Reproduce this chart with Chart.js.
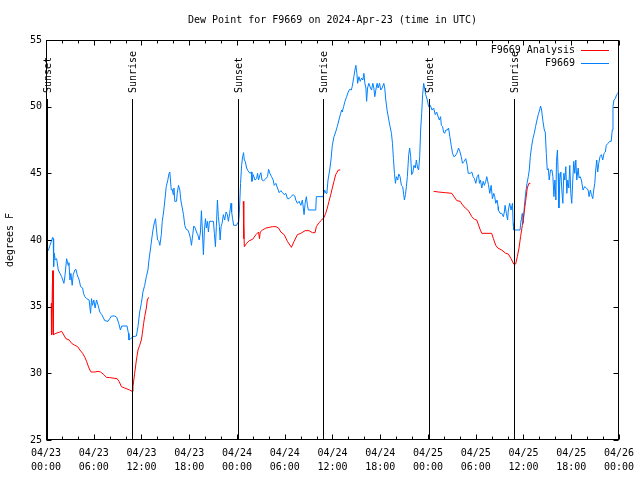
<!DOCTYPE html>
<html>
<head>
<meta charset="utf-8">
<script src="https://cdn.jsdelivr.net/npm/chart.js@4.4.1/dist/chart.umd.min.js"></script>
<style>
html,body{margin:0;padding:0;background:#fff;}
#wrap{width:640px;height:480px;}
</style>
</head>
<body>
<div id="wrap"><canvas id="c" width="640" height="480"></canvas></div>
<script>
// ---- data (hours since 2024-04-23 00:00 UTC) ----
const chartTitle = "Dew Point for F9669 on 2024-Apr-23 (time in UTC)";
const yTitle = "degrees F";
const seriesNames = ["F9669 Analysis", "F9669"];
const startDay = 23;
const xTickHours = [0, 6, 12, 18, 24, 30, 36, 42, 48, 54, 60, 66, 72];
const yTickValues = [25, 30, 35, 40, 45, 50, 55];

const stationHours = [0.29,0.50,0.84,0.91,0.96,1.04,1.16,1.34,1.54,1.75,1.97,2.25,2.38,2.59,2.79,2.88,3.01,3.13,3.29,3.42,3.63,3.76,3.92,4.17,4.35,4.60,4.72,4.88,5.10,5.42,5.60,5.72,5.85,6.01,6.17,6.35,6.55,6.76,7.01,7.39,7.80,8.01,8.23,8.64,8.89,9.14,9.35,9.52,10.18,10.36,10.43,10.64,10.93,11.36,11.56,11.77,11.98,12.18,12.40,12.61,12.81,12.94,
13.11,13.27,13.44,13.65,13.77,13.86,14.02,14.19,14.31,14.49,14.61,14.78,14.94,15.11,15.31,15.44,15.56,15.74,15.87,15.99,16.07,16.19,16.40,16.49,16.65,16.82,16.94,17.12,17.28,17.44,17.62,17.82,17.99,18.16,18.28,18.44,18.57,18.75,18.91,19.07,19.25,19.41,19.53,19.66,19.78,19.91,20.04,20.16,20.29,20.41,20.54,21.04,21.16,21.29,21.41,21.54,21.66,21.79,21.88,22.00,22.13,22.29,22.45,22.63,22.79,22.92,23.08,23.25,23.33,23.45,23.58,23.95,24.08,24.21,24.29,24.45,24.58,24.71,24.83,24.92,25.04,25.21,25.38,
25.63,25.80,25.88,26.05,26.26,26.46,26.59,26.71,26.89,27.01,27.14,27.34,27.55,27.84,27.97,28.14,28.34,28.55,28.68,28.89,29.09,29.30,29.51,29.72,29.93,30.14,30.34,30.55,30.77,31.05,31.27,31.39,31.59,31.81,32.02,32.22,32.43,32.56,32.72,32.85,32.97,33.90,33.97,34.81,35.02,35.19,35.31,35.44,35.65,35.81,35.98,36.19,36.40,36.60,36.81,37.03,37.15,37.23,37.40,37.57,37.78,37.98,38.15,38.36,38.48,38.69,38.82,38.94,39.07,39.16,39.32,39.49,39.66,39.82,39.95,40.07,40.20,40.29,40.41,40.57,40.78,40.91,41.07,41.20,41.32,41.49,41.61,41.74,41.91,42.07,42.24,42.45,42.57,42.70,42.86,43.08,43.24,43.41,43.54,43.66,43.79,43.91,44.04,44.20,44.33,44.49,44.66,44.83,44.95,45.04,45.17,45.29,45.41,45.58,45.70,45.83,45.95,46.08,46.24,46.41,46.54,46.70,46.83,46.96,47.08,47.21,47.33,47.46,47.58,47.71,47.92,48.08,48.30,48.50,48.71,48.92,49.09,49.25,49.43,49.59,49.68,49.84,49.96,50.09,50.25,50.43,50.59,50.75,50.92,51.09,51.25,51.42,51.63,51.84,52.01,52.18,52.34,52.55,52.75,52.93,53.06,53.31,53.51,53.68,53.84,54.01,54.18,54.35,54.47,54.60,54.76,54.94,55.09,55.26,55.39,55.60,55.77,55.94,56.10,56.27,56.39,56.52,56.69,56.81,56.85,57.06,57.27,57.48,57.60,57.69,57.85,58.01,58.10,58.27,58.44,58.62,58.70,58.78,59.57,59.70,59.77,59.86,59.98,60.11,60.27,60.45,60.61,60.73,60.86,61.02,61.19,61.36,61.52,61.70,61.86,62.03,62.15,62.28,62.45,62.62,62.74,62.87,62.99,63.12,63.24,63.40,63.58,63.70,63.83,63.95,64.08,64.15,64.27,64.36,64.45,64.57,64.70,64.82,64.95,65.07,65.20,65.32,65.45,65.57,65.70,65.82,65.95,66.07,66.20,66.32,66.45,66.58,66.70,66.87,66.99,67.12,67.28,67.49,67.70,67.91,68.12,68.25,68.41,68.54,68.71,68.83,68.96,69.08,69.21,69.33,69.46,69.62,69.79,69.96,70.12,70.29,70.41,70.63,70.84,71.03,71.16,71.25,71.37,71.54,71.71,71.87,72.00];
const stationValues = [39.2,39.6,40.2,40.1,38.0,39.0,38.5,38.6,37.75,37.5,37.25,36.75,37.3,38.6,38.1,38.3,37.0,37.5,36.6,37.4,37.75,37.8,37.4,37.0,36.5,36.4,36.0,35.75,35.6,35.5,34.5,35.6,35.1,35.5,34.9,35.5,35.1,34.6,34.4,33.95,33.9,34.1,34.3,34.3,34.2,33.75,33.25,33.55,33.55,33.0,32.5,32.6,32.75,32.8,33.5,34.6,35.25,36.1,36.6,37.25,37.75,38.5,
39.25,40.0,40.75,41.4,41.6,40.9,40.0,39.9,39.6,40.4,41.4,42.1,43.0,44.0,44.5,44.95,45.1,43.75,43.8,43.4,43.9,42.9,42.9,43.5,44.1,43.75,43.0,42.4,41.9,41.1,40.8,40.75,40.5,40.1,39.6,40.4,41.05,40.9,40.6,40.4,40.0,40.6,42.2,40.6,38.9,40.75,41.6,40.9,41.4,40.6,41.4,41.4,40.5,39.5,41.0,43.0,41.75,41.0,40.0,41.0,41.25,41.9,41.5,42.1,41.9,41.4,42.0,42.75,42.1,41.6,41.1,41.1,41.3,41.3,42.0,44.25,45.6,46.25,46.55,46.0,45.9,45.4,45.2,
45.0,45.1,44.4,44.9,44.5,44.6,45.0,44.5,44.9,45.05,44.5,44.45,44.55,44.75,45.3,45.0,44.75,44.5,44.1,44.25,43.9,43.55,43.7,43.55,43.4,43.5,43.1,43.1,43.25,43.4,43.3,43.0,42.75,42.9,42.6,43.0,41.9,42.75,43.25,42.6,42.25,42.25,43.25,43.25,43.75,43.5,43.6,44.5,45.25,46.0,47.1,47.75,48.1,48.5,49.0,49.5,49.75,49.6,50.0,50.4,50.75,51.1,51.3,51.25,51.5,52.25,52.75,53.1,52.5,51.75,52.25,51.9,52.15,52.0,52.5,51.75,51.4,50.4,51.4,51.75,51.4,51.25,51.75,51.4,50.75,51.4,51.75,51.4,51.75,51.25,51.4,51.75,51.4,50.5,49.75,49.0,48.5,48.0,47.25,46.1,45.0,44.25,44.75,44.5,44.95,44.75,44.1,44.0,43.4,43.0,43.4,44.0,44.75,46.4,46.9,46.25,44.9,45.0,45.6,45.4,46.0,45.4,45.25,46.25,48.25,49.5,50.9,51.75,51.4,50.9,50.5,50.0,50.1,49.75,49.9,49.4,49.6,49.3,49.0,49.25,48.6,48.5,48.1,48.0,48.25,48.25,48.4,47.75,47.1,46.5,46.25,46.3,46.5,46.9,46.65,46.25,45.75,45.9,46.1,45.6,45.0,45.0,45.1,44.75,44.6,44.25,44.75,44.9,44.25,44.5,43.9,44.4,44.1,44.4,44.75,44.15,43.5,44.1,43.1,43.5,43.25,42.75,43.0,42.5,42.25,42.0,42.0,41.75,42.1,42.6,42.0,41.5,42.25,42.75,42.25,42.75,41.25,40.75,40.75,41.5,41.75,42.0,41.25,42.5,43.5,44.25,44.75,45.25,46.25,47.0,47.6,48.0,48.5,49.0,49.4,49.75,50.05,49.75,48.9,48.25,48.1,46.5,45.25,45.35,44.5,45.25,45.25,44.75,43.25,44.5,43.0,45.9,46.75,45.0,42.4,44.5,45.1,43.75,42.75,45.0,44.5,45.5,43.5,44.5,43.9,45.6,43.5,42.75,44.5,45.9,45.0,46.0,44.5,45.4,44.65,44.75,44.5,43.75,44.0,43.9,43.75,43.25,43.75,43.4,43.1,43.75,44.25,45.25,46.0,45.1,45.75,46.25,46.4,46.0,46.5,46.6,47.1,47.25,47.4,47.4,48.25,50.0,50.5,50.6,50.9,51.0,51.2];

const analysisHours = [0.66,0.69,0.84,0.88,0.91,0.94,1.25,1.75,1.97,2.17,2.50,2.92,3.22,3.63,3.97,4.26,4.60,4.88,5.10,5.30,5.51,5.67,6.14,6.55,6.85,7.18,7.60,8.01,8.93,9.18,9.48,9.89,10.31,10.52,10.81,10.93,11.14,11.36,11.56,11.77,11.98,12.11,12.27,12.40,12.61,12.73,12.90,
18.0,
24.79,24.83,24.88,24.92,24.96,25.21,25.54,25.96,26.38,26.71,26.83,26.92,27.21,27.64,28.05,28.46,28.89,29.22,29.51,29.93,30.34,30.84,31.18,31.59,32.02,32.56,33.06,33.47,33.81,33.97,34.31,34.65,34.94,35.15,35.35,35.56,35.78,35.98,36.19,36.40,36.60,36.73,36.98,
42.0,
48.71,49.34,50.18,51.00,51.22,51.63,52.05,52.26,52.68,53.09,53.51,53.84,54.13,54.55,54.76,56.01,56.22,56.52,56.77,57.27,57.77,58.10,58.44,58.78,59.02,59.23,59.44,59.64,59.86,60.07,60.27,60.48,60.69,60.86];
const analysisValues = [35.25,32.9,37.7,32.9,37.7,32.9,33.0,33.1,33.15,32.95,32.6,32.5,32.25,32.1,32.0,31.75,31.5,31.2,30.9,30.55,30.25,30.1,30.1,30.15,30.1,29.95,29.7,29.68,29.6,29.4,29.0,28.9,28.8,28.75,28.65,29.0,30.0,31.0,31.75,32.1,32.5,33.0,33.75,34.25,34.9,35.5,35.7,
null,
42.9,40.1,41.2,39.5,39.5,39.75,39.95,40.05,40.4,40.6,40.1,40.6,40.75,40.9,40.95,41.0,41.0,40.9,40.6,40.4,39.9,39.45,39.9,40.4,40.5,40.7,40.7,40.55,40.55,41.0,41.3,41.5,41.7,42.0,42.4,42.9,43.4,43.9,44.4,44.9,45.1,45.25,45.25,
null,
43.65,43.6,43.55,43.5,43.3,42.95,42.9,42.7,42.4,42.2,41.75,41.55,41.5,40.8,40.5,40.5,40.1,39.6,39.4,39.25,39.0,38.95,38.6,38.2,38.2,38.75,39.4,40.25,41.1,42.0,42.9,43.9,44.25,44.25];

const sunHours = [0.12, 10.82, 24.13, 34.85, 48.13, 58.82];
const sunLabels = ["Sunset", "Sunrise", "Sunset", "Sunrise", "Sunset", "Sunrise"];

const seriesColors = ["#ff0000", "#0080ff"];
// ---- end data ----

const FONT = "DejaVu Sans Mono";
const pad2 = n => (n < 10 ? "0" : "") + n;
function fmtHour(h) {
  const d = startDay + Math.floor(h / 24);
  const hh = h % 24;
  return ["04/" + pad2(d), pad2(hh) + ":00"];
}

const decor = {
  id: "decor",
  afterDatasetsDraw(chart) {
    const ctx = chart.ctx, a = chart.chartArea;
    const xs = chart.scales.x, ys = chart.scales.y;
    const L = Math.round(a.left) + 0.5, R = Math.round(a.right) - 0.5;
    const T = Math.round(a.top) + 0.5, B = Math.round(a.bottom) - 0.5;
    ctx.save();
    ctx.strokeStyle = "#000";
    ctx.lineWidth = 1;
    // sun lines
    ctx.beginPath();
    sunHours.forEach(h => {
      const x = Math.round(xs.getPixelForValue(h)) + 0.5;
      ctx.moveTo(x, 99); ctx.lineTo(x, B);
    });
    ctx.stroke();
    // border
    ctx.strokeRect(L, T, R - L, B - T);
    // ticks
    ctx.beginPath();
    yTickValues.forEach(v => {
      const y = Math.round(ys.getPixelForValue(v)) + 0.5;
      ctx.moveTo(L, y); ctx.lineTo(L + 5, y);
      ctx.moveTo(R, y); ctx.lineTo(R - 5, y);
    });
    for (let h = 0; h <= 72; h += 2) {
      const x = Math.round(xs.getPixelForValue(h)) + 0.5;
      const len = (h % 6 === 0) ? 5 : 3;
      ctx.moveTo(x, B); ctx.lineTo(x, B - len);
      ctx.moveTo(x, T); ctx.lineTo(x, T + len);
    }
    ctx.stroke();
    // sun labels
    ctx.fillStyle = "#000";
    ctx.font = "10px '" + FONT + "'";
    sunHours.forEach((h, i) => {
      const x = xs.getPixelForValue(h);
      ctx.save();
      ctx.translate(x + 1, 93);
      ctx.rotate(-Math.PI / 2);
      ctx.textAlign = "left";
      ctx.textBaseline = "middle";
      ctx.fillText(sunLabels[i], 0, 0);
      ctx.restore();
    });
    // title
    ctx.textAlign = "center";
    ctx.textBaseline = "middle";
    ctx.fillText(chartTitle, (a.left + a.right) / 2, 20);
    // y title
    ctx.save();
    ctx.translate(10, (a.top + a.bottom) / 2);
    ctx.rotate(-Math.PI / 2);
    ctx.fillText(yTitle, 0, 0);
    ctx.restore();
    // legend
    const legY = [50, 63];
    ctx.textAlign = "right";
    seriesNames.forEach((n, i) => {
      ctx.fillStyle = "#000";
      ctx.fillText(n, 575, legY[i]);
      ctx.strokeStyle = seriesColors[i];
      ctx.beginPath();
      ctx.moveTo(581, legY[i] + 0.5); ctx.lineTo(609, legY[i] + 0.5);
      ctx.stroke();
    });
    ctx.restore();
  }
};

new Chart(document.getElementById("c"), {
  type: "line",
  data: {
    datasets: [
      {
        label: seriesNames[0],
        data: analysisHours.map((h, i) => ({ x: h, y: analysisValues[i] })),
        borderColor: seriesColors[0],
        borderWidth: 1,
        pointRadius: 0,
        tension: 0,
        spanGaps: false
      },
      {
        label: seriesNames[1],
        data: stationHours.map((h, i) => ({ x: h, y: stationValues[i] })),
        borderColor: seriesColors[1],
        borderWidth: 1,
        pointRadius: 0,
        tension: 0
      }
    ]
  },
  options: {
    responsive: false,
    animation: false,
    devicePixelRatio: 1,
    layout: { padding: { top: 40, right: 19, left: 0, bottom: 0 } },
    plugins: { legend: { display: false }, title: { display: false }, tooltip: { enabled: false } },
    scales: {
      x: {
        type: "linear",
        min: 0, max: 72,
        afterFit: s => { s.height = 40; },
        afterBuildTicks: s => { s.ticks = xTickHours.map(v => ({ value: v })); },
        grid: { display: false, drawTicks: false },
        border: { display: false },
        ticks: {
          maxRotation: 0, autoSkip: false, padding: 6,
          color: "#000",
          font: { family: FONT, size: 10, lineHeight: 1.4 },
          callback: v => fmtHour(v)
        }
      },
      y: {
        min: 25, max: 55,
        afterFit: s => { s.width = 46; },
        afterBuildTicks: s => { s.ticks = yTickValues.map(v => ({ value: v })); },
        grid: { display: false, drawTicks: false },
        border: { display: false },
        ticks: {
          padding: 4, color: "#000",
          font: { family: FONT, size: 10 },
          callback: v => String(v)
        }
      }
    }
  },
  plugins: [decor]
});
</script>
</body>
</html>
